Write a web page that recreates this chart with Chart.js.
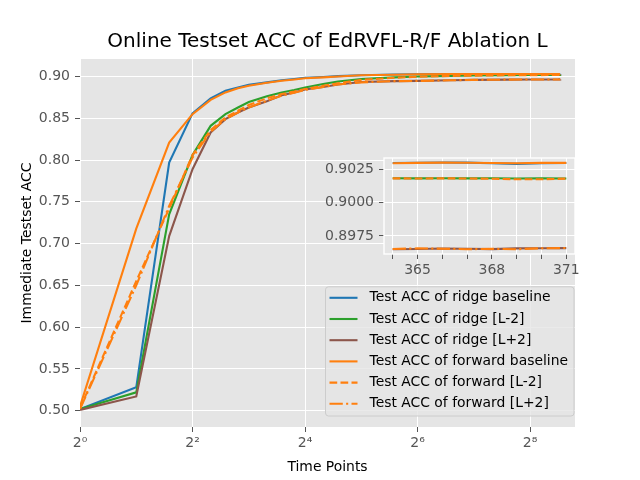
<!DOCTYPE html>
<html>
<head>
<meta charset="utf-8">
<script src="https://cdn.jsdelivr.net/npm/chart.js@4"></script>
<style>
  body { margin: 0; background: #fff; }
  #wrap { position: relative; width: 640px; height: 480px; }
  #wrap canvas { position: absolute; left: 0; top: 0; }
</style>
</head>
<body>
<div id="wrap">
  <canvas id="mainChart" width="640" height="480"></canvas>
  <canvas id="insetChart" width="640" height="480"></canvas>
</div>
<script>
// time points (dense tail only where the inset zooms in)
const timePoints = [1, 2, 3, 4, 5, 6, 7, 8, 10, 12, 14, 16, 20, 24, 32, 48, 64, 96, 128, 192, 256,
  364, 365, 366, 367, 368, 369, 370, 371];

const ridgeBaseline = [0.502, 0.528, 0.797, 0.856, 0.874, 0.883, 0.887, 0.890, 0.893, 0.8955, 0.897, 0.8985, 0.8995, 0.9005, 0.9016, 0.9024, 0.9027, 0.9029, 0.9030, 0.9030, 0.9030,
  0.90298, 0.90300, 0.90302, 0.90301, 0.90296, 0.90292, 0.90297, 0.90298];
const ridgeMinus2 = [0.502, 0.522, 0.735, 0.806, 0.841, 0.855, 0.863, 0.8695, 0.8765, 0.881, 0.884, 0.887, 0.891, 0.894, 0.897, 0.899, 0.900, 0.9008, 0.9012, 0.9016, 0.9018,
  0.90184, 0.90183, 0.90184, 0.90183, 0.90184, 0.90182, 0.90183, 0.90182];
const ridgePlus2 = [0.501, 0.517, 0.709, 0.789, 0.833, 0.849, 0.857, 0.863, 0.8705, 0.8775, 0.881, 0.8845, 0.8875, 0.8905, 0.8935, 0.8945, 0.8948, 0.8955, 0.8960, 0.8963, 0.8965,
  0.89650, 0.89652, 0.89655, 0.89653, 0.89651, 0.89656, 0.89657, 0.89658];
const forwardBaseline = [0.505, 0.718, 0.821, 0.855, 0.872, 0.881, 0.886, 0.889, 0.8925, 0.895, 0.8965, 0.898, 0.899, 0.900, 0.9015, 0.9022, 0.9027, 0.9030, 0.9031, 0.9030, 0.9030,
  0.90296, 0.90299, 0.90301, 0.90300, 0.90298, 0.90297, 0.90299, 0.90299];
const forwardMinus2 = [0.503, 0.655, 0.742, 0.806, 0.836, 0.851, 0.859, 0.866, 0.874, 0.879, 0.882, 0.885, 0.889, 0.892, 0.896, 0.8985, 0.8998, 0.9007, 0.9011, 0.9015, 0.9017,
  0.90183, 0.90182, 0.90183, 0.90182, 0.90180, 0.90176, 0.90176, 0.90181];
const forwardPlus2 = [0.502, 0.650, 0.745, 0.803, 0.834, 0.849, 0.857, 0.863, 0.871, 0.877, 0.8805, 0.884, 0.8875, 0.8905, 0.893, 0.8945, 0.8948, 0.8955, 0.8960, 0.8963, 0.8965,
  0.89652, 0.89656, 0.89654, 0.89650, 0.89653, 0.89650, 0.89657, 0.89659];

const seriesLabels = [
  'Test ACC of ridge baseline',
  'Test ACC of ridge [L-2]',
  'Test ACC of ridge [L+2]',
  'Test ACC of forward baseline',
  'Test ACC of forward [L-2]',
  'Test ACC of forward [L+2]',
];
const seriesValues = [ridgeBaseline, ridgeMinus2, ridgePlus2, forwardBaseline, forwardMinus2, forwardPlus2];

const xTickValues = [1, 4, 16, 64, 256];
const xTickLabels = ['2⁰', '2²', '2⁴', '2⁶', '2⁸'];
const yTickValues = [0.5, 0.55, 0.6, 0.65, 0.7, 0.75, 0.8, 0.85, 0.9];

const insetXTicks = [364, 365, 366, 367, 368, 369, 370, 371];
const insetXLabels = [365, 368, 371];
const insetYTicks = [0.8975, 0.9, 0.9025];
const insetStart = 364;

const colors = ['#1f77b4', '#2ca02c', '#8c564b', '#ff7f0e', '#ff7f0e', '#ff7f0e'];
const dashes = [[], [], [], [], [7.7, 3.3], [13.3, 3.3, 2.1, 3.3]];

Chart.defaults.font.family = 'DejaVu Sans';
Chart.defaults.font.size = 14;
Chart.defaults.color = '#555555';

const makeDatasets = (fromX) => seriesValues.map((vals, i) => ({
  label: seriesLabels[i],
  data: timePoints
    .map((t, k) => ({ x: t, y: vals[k] }))
    .filter((p) => p.x >= fromX),
  borderColor: colors[i],
  backgroundColor: colors[i],
  borderDash: dashes[i],
  borderWidth: 2.1,
  pointRadius: 0,
  tension: 0,
  fill: false,
  order: -i, // later series on top, like matplotlib
}));

const plotBg = {
  id: 'plotBg',
  beforeDraw(chart, args, opts) {
    const { ctx, chartArea: a } = chart;
    ctx.save();
    if (opts.canvas) {
      ctx.fillStyle = opts.canvas;
      ctx.fillRect(0, 0, chart.width, chart.height);
    }
    ctx.fillStyle = '#e5e5e5';
    ctx.fillRect(a.left, a.top, a.right - a.left, a.bottom - a.top);
    ctx.restore();
  },
  afterDraw(chart, args, opts) {
    if (!opts.frame) return;
    const { ctx, chartArea: a } = chart;
    ctx.save();
    ctx.strokeStyle = '#ffffff';
    ctx.lineWidth = 1.4;
    ctx.strokeRect(a.left, a.top, a.right - a.left, a.bottom - a.top);
    ctx.restore();
  },
};

// matplotlib-like legend box in the lower right of the plot
const boxLegend = {
  id: 'boxLegend',
  afterDraw(chart) {
    const { ctx, chartArea: a } = chart;
    const sets = chart.data.datasets;
    ctx.save();
    ctx.font = '13.9px "DejaVu Sans"';
    const textW = Math.max(...sets.map((d) => ctx.measureText(d.label).width));
    const rowH = 21.2;
    const w = 44 + textW + 6;
    const h = rowH * sets.length + 2;
    const x0 = a.right - 1 - w;
    const y0 = a.bottom - 11 - h;
    ctx.beginPath();
    ctx.roundRect(x0, y0, w, h, 3);
    ctx.fillStyle = 'rgba(229,229,229,0.8)';
    ctx.fill();
    ctx.strokeStyle = '#cccccc';
    ctx.lineWidth = 1;
    ctx.stroke();
    sets.forEach((d, i) => {
      const cy = y0 + 11 + i * rowH;
      ctx.beginPath();
      ctx.setLineDash(d.borderDash);
      ctx.strokeStyle = d.borderColor;
      ctx.lineWidth = 2.1;
      ctx.moveTo(x0 + 4, cy);
      ctx.lineTo(x0 + 32, cy);
      ctx.stroke();
      ctx.setLineDash([]);
      ctx.fillStyle = '#000000';
      ctx.textBaseline = 'middle';
      ctx.textAlign = 'left';
      ctx.fillText(d.label, x0 + 44, cy);
    });
    ctx.restore();
  },
};

const gridStyle = {
  color: '#ffffff',
  lineWidth: 1,
  tickColor: '#555555',
  tickLength: 5,
  tickWidth: 1,
};

const mainChart = new Chart(document.getElementById('mainChart'), {
  type: 'line',
  data: { datasets: makeDatasets(0) },
  plugins: [plotBg, boxLegend],
  options: {
    responsive: false,
    animation: false,
    devicePixelRatio: 1,
    layout: { padding: { left: 15, right: 65, top: 0, bottom: 0 } },
    scales: {
      x: {
        type: 'logarithmic',
        min: 1,
        max: 445,
        grid: gridStyle,
        border: { display: false },
        afterBuildTicks: (scale) => {
          scale.ticks = xTickValues.map((v) => ({ value: v }));
        },
        afterFit: (scale) => { scale.height = 53; },
        ticks: {
          autoSkip: false,
          maxRotation: 0,
          padding: 3,
          callback: (value) => xTickLabels[xTickValues.indexOf(value)],
        },
        title: {
          display: true,
          text: 'Time Points',
          color: '#000000',
          font: { size: 13.9 },
          padding: { top: 4, bottom: 4 },
        },
      },
      y: {
        min: 0.4805,
        max: 0.921,
        grid: gridStyle,
        border: { display: false },
        afterBuildTicks: (scale) => {
          scale.ticks = yTickValues.map((v) => ({ value: v }));
        },
        afterFit: (scale) => { scale.width = 65; },
        ticks: {
          padding: 5,
          callback: (value) => value.toFixed(2),
        },
        title: {
          display: true,
          text: 'Immediate Testset ACC',
          color: '#000000',
          font: { size: 13.9 },
          padding: { top: 4, bottom: 4 },
        },
      },
    },
    plugins: {
      plotBg: { canvas: '#ffffff' },
      legend: { display: false },
      tooltip: { enabled: false },
      title: {
        display: true,
        fullSize: false,
        text: 'Online Testset ACC of EdRVFL-R/F Ablation L',
        color: '#000000',
        font: { size: 20, weight: 'normal' },
        padding: { top: 30, bottom: 5 },
      },
    },
  },
});

// zoomed view of the last time points, drawn on a transparent overlay
const insetChart = new Chart(document.getElementById('insetChart'), {
  type: 'line',
  data: { datasets: makeDatasets(insetStart) },
  plugins: [plotBg],
  options: {
    responsive: false,
    animation: false,
    devicePixelRatio: 1,
    layout: { padding: { left: 324, right: 65, top: 158, bottom: 196 } },
    scales: {
      x: {
        type: 'linear',
        min: 363.65,
        max: 371.35,
        grid: gridStyle,
        border: { display: false },
        afterBuildTicks: (scale) => {
          scale.ticks = insetXTicks.map((v) => ({ value: v }));
        },
        afterFit: (scale) => { scale.height = 30; },
        ticks: {
          autoSkip: false,
          maxRotation: 0,
          padding: 3,
          callback: (value) => (insetXLabels.includes(value) ? `${value}` : ''),
        },
      },
      y: {
        min: 0.89614,
        max: 0.90336,
        grid: gridStyle,
        border: { display: false },
        afterBuildTicks: (scale) => {
          scale.ticks = insetYTicks.map((v) => ({ value: v }));
        },
        afterFit: (scale) => { scale.width = 60; },
        ticks: {
          padding: 5,
          callback: (value) => value.toFixed(4),
        },
      },
    },
    plugins: {
      plotBg: { frame: true },
      legend: { display: false },
      tooltip: { enabled: false },
      title: { display: false },
    },
  },
});
</script>
</body>
</html>
